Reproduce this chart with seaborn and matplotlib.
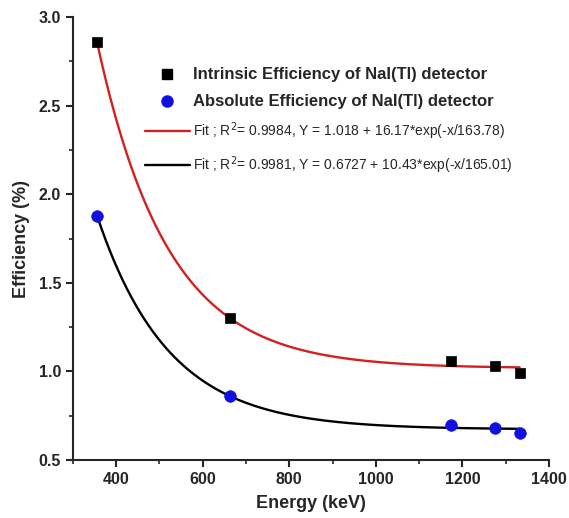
import numpy as np
import pandas as pd
import matplotlib
matplotlib.use("Agg")
import matplotlib.pyplot as plt
import seaborn as sns
from matplotlib.lines import Line2D
from matplotlib.ticker import MultipleLocator

energy = [356, 662, 1173, 1275, 1332]
intrinsic = [2.86, 1.30, 1.06, 1.03, 0.99]
absolute = [1.88, 0.86, 0.70, 0.68, 0.65]

# Fit parameters as printed in the legend
fit_int = (1.018, 16.17, 163.78)
fit_abs = (0.6727, 10.43, 165.01)

sns.set_style("ticks")
plt.rcParams['font.family'] = ['Liberation Sans', 'DejaVu Sans']

fig = plt.figure(figsize=(5.69, 5.18), dpi=100)
ax = fig.add_axes([0.128, 0.112, 0.837, 0.855])

xs = np.linspace(min(energy), max(energy), 300)
df_fit = pd.DataFrame({
    "x": np.concatenate([xs, xs]),
    "y": np.concatenate([fit_int[0] + fit_int[1] * np.exp(-xs / fit_int[2]),
                         fit_abs[0] + fit_abs[1] * np.exp(-xs / fit_abs[2])]),
    "s": ["int"] * len(xs) + ["abs"] * len(xs),
})
sns.lineplot(data=df_fit, x="x", y="y", hue="s", palette={"int": "#d42020", "abs": "black"},
             linewidth=1.7, legend=False, ax=ax, sort=False)

df_pts = pd.DataFrame({"x": energy, "int": intrinsic, "abs": absolute})
sns.scatterplot(data=df_pts, x="x", y="int", marker="s", color="black", s=60,
                edgecolor="black", linewidth=0.5, ax=ax, zorder=5)
sns.scatterplot(data=df_pts, x="x", y="abs", marker="o", color="#1010e0", s=70,
                edgecolor="#1010e0", linewidth=0.5, ax=ax, zorder=5)

ax.set_xlim(300, 1400)
ax.set_ylim(0.5, 3.0)
ax.xaxis.set_major_locator(MultipleLocator(200))
ax.xaxis.set_minor_locator(MultipleLocator(100))
ax.yaxis.set_major_locator(MultipleLocator(0.5))
ax.yaxis.set_minor_locator(MultipleLocator(0.25))
for s in ["top", "right"]:
    ax.spines[s].set_visible(False)
for s in ["left", "bottom"]:
    ax.spines[s].set_linewidth(1.5)
ax.tick_params(which="major", direction="out", length=5, width=1.5, labelsize=11.5)
ax.tick_params(which="minor", direction="out", length=3, width=1.2)
for lab in ax.get_xticklabels() + ax.get_yticklabels():
    lab.set_fontweight("bold")
ax.set_xlabel("Energy (keV)", fontsize=13, fontweight="bold", labelpad=6)
ax.set_ylabel("Efficiency (%)", fontsize=13, fontweight="bold", labelpad=6)

handles = [
    Line2D([], [], marker="s", color="black", linestyle="none", markersize=7),
    Line2D([], [], marker="o", color="#1010e0", linestyle="none", markersize=8),
    Line2D([], [], color="#d42020", linewidth=1.7),
    Line2D([], [], color="black", linewidth=1.7),
]
labels = [
    "Intrinsic Efficiency of NaI(Tl) detector",
    "Absolute Efficiency of NaI(Tl) detector",
    r"Fit ; R$^2$= 0.9984, Y = 1.018 + 16.17*exp(-x/163.78)",
    r"Fit ; R$^2$= 0.9981, Y = 0.6727 + 10.43*exp(-x/165.01)",
]
leg = ax.legend(handles, labels, loc="upper left", bbox_to_anchor=(0.14, 0.9),
                frameon=False, handlelength=3.2, handletextpad=0.25, labelspacing=0.85,
                borderaxespad=0)
texts = leg.get_texts()
for t in texts[:2]:
    t.set_fontweight("bold")
    t.set_fontsize(12)
for t in texts[2:]:
    t.set_fontsize(10)

fig.savefig("out.png", dpi=100)
